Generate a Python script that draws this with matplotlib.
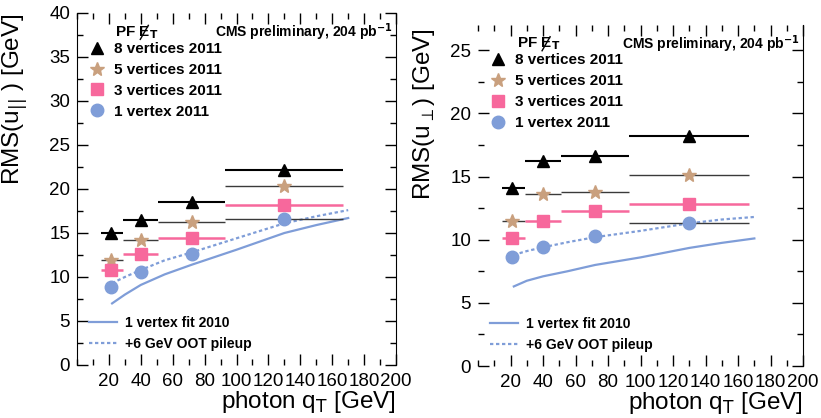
import matplotlib.pyplot as plt
import numpy as np
from matplotlib.lines import Line2D
from matplotlib.ticker import MultipleLocator

plt.rcParams['font.family'] = ['Liberation Sans', 'DejaVu Sans']

# photon qT bins
qt = np.array([21, 40, 72, 130])
qt_lo = np.array([15, 29, 51, 93])
qt_hi = np.array([29, 51, 93, 167])

# RMS(u_par)
par_8vtx = [15.0, 16.5, 18.5, 22.2]
par_5vtx = [11.9, 14.2, 16.2, 20.3]
par_3vtx = [10.8, 12.6, 14.4, 18.2]
par_1vtx = [8.9, 10.6, 12.6, 16.6]

# RMS(u_perp)
perp_8vtx = [14.1, 16.2, 16.6, 18.2]
perp_5vtx = [11.5, 13.6, 13.8, 15.1]
perp_3vtx = [10.1, 11.5, 12.3, 12.85]
perp_1vtx = [8.6, 9.4, 10.3, 11.3]

# 2010 fits
fit_qt = [22, 30, 40, 55, 72, 100, 130, 150, 170]
par_fit = [7.0, 8.0, 9.1, 10.3, 11.4, 13.1, 15.0, 15.9, 16.7]
par_oot = [9.3, 10.0, 10.8, 11.9, 12.8, 14.4, 16.1, 16.9, 17.6]
perp_fit = [6.3, 6.75, 7.1, 7.5, 8.0, 8.6, 9.35, 9.75, 10.1]
perp_oot = [8.8, 9.1, 9.4, 9.8, 10.2, 10.7, 11.3, 11.6, 11.8]

c_black = 'black'
c_star = '#c9a07e'
c_pink = '#f7689c'
c_blue = '#7f9dd8'
c_bar = '#3a3a3a'

W, H = 821, 418
fig = plt.figure(figsize=(W / 100, H / 100), dpi=100)
ax1 = fig.add_axes([0.0938, 0.1268, 0.3886, 0.8421])
ax2 = fig.add_axes([0.5823, 0.1244, 0.3959, 0.8158])


def draw(ax, s8, s5, s3, s1, fit, oot, ymax, ylabel, show_left):
    ax.hlines(s8, qt_lo, qt_hi, color=c_black, lw=1.5, zorder=2)
    ax.hlines(s5, qt_lo, qt_hi, color=c_bar, lw=1.0, zorder=2)
    ax.hlines(s3, qt_lo, qt_hi, color=c_pink, lw=1.8, zorder=2)
    ax.hlines(s1[-1:], qt_lo[-1:], qt_hi[-1:], color=c_bar, lw=1.0, zorder=2)
    ax.plot(fit_qt, fit, color=c_blue, lw=1.6, zorder=1)
    ax.plot(fit_qt, oot, color=c_blue, lw=1.6, ls=(0, (1.5, 1.2)), zorder=1)
    ax.plot(qt, s8, '^', color=c_black, ms=8, zorder=4)
    ax.plot(qt, s5, '*', color=c_star, ms=10, zorder=4)
    ax.plot(qt, s3, 's', color=c_pink, ms=9, zorder=4)
    ax.plot(qt, s1, 'o', color=c_blue, ms=9, zorder=4)

    ax.set_xlim(0, 200)
    ax.set_ylim(0, ymax)
    ax.set_xticks(np.arange(20, 201, 20))
    ax.xaxis.set_minor_locator(MultipleLocator(10))
    ax.yaxis.set_major_locator(MultipleLocator(5))
    ax.yaxis.set_minor_locator(MultipleLocator(2.5))
    ax.tick_params(which='both', direction='in', top=True, right=True,
                   labelsize=13.5, pad=6)
    ax.tick_params(which='major', length=8, width=1)
    ax.tick_params(which='minor', length=4, width=1)
    ax.tick_params(axis='y', pad=5)
    ax.spines['top'].set_visible(False)
    ax.spines['bottom'].set_visible(False)
    ax.spines['left'].set_visible(show_left)
    ax.set_ylabel(ylabel, fontsize=17.5, loc='top')
    ax.set_xlabel(r'photon q$_\mathrm{T}$ [GeV]', fontsize=17.5, loc='right',
                  labelpad=-1)

    handles = [
        Line2D([], [], marker='^', ls='none', color=c_black, ms=8),
        Line2D([], [], marker='*', ls='none', color=c_star, ms=10),
        Line2D([], [], marker='s', ls='none', color=c_pink, ms=9),
        Line2D([], [], marker='o', ls='none', color=c_blue, ms=9),
    ]
    labels = ['8 vertices 2011', '5 vertices 2011', '3 vertices 2011', '1 vertex 2011']
    leg = ax.legend(handles, labels, loc='upper left', bbox_to_anchor=(0.02, 0.935),
                    frameon=False, prop={'weight': 'bold', 'size': 11},
                    handlelength=1.0, handletextpad=0.6, labelspacing=0.45,
                    borderaxespad=0)
    ax.add_artist(leg)
    lh = [Line2D([], [], color=c_blue, lw=1.6),
          Line2D([], [], color=c_blue, lw=1.6, ls=(0, (1.5, 1.2)))]
    ax.legend(lh, ['1 vertex fit 2010', '+6 GeV OOT pileup'], loc='lower left',
              bbox_to_anchor=(0.02, 0.025), frameon=False,
              prop={'weight': 'bold', 'size': 10}, handlelength=2.0,
              handletextpad=0.6, labelspacing=0.5, borderaxespad=0)

    ax.text(0.12, 0.945, 'PF E$_\\mathbf{T}$', transform=ax.transAxes,
            fontsize=11, fontweight='bold', va='center')
    # slash through the E (missing transverse energy), placed in figure pixels
    pos = ax.get_position()
    ex = pos.x0 * W + 0.12 * pos.width * W + 25
    ey = H - (pos.y0 * H + 0.945 * pos.height * H)
    fig.add_artist(Line2D([ex / W, (ex + 8) / W], [1 - (ey + 7) / H, 1 - (ey - 7) / H],
                          transform=fig.transFigure, color='black', lw=1.0))
    ax.text(0.99, 0.945, 'CMS preliminary, 204 pb$^{\\mathbf{-1}}$',
            transform=ax.transAxes, fontsize=10, fontweight='bold',
            va='center', ha='right')


draw(ax1, par_8vtx, par_5vtx, par_3vtx, par_1vtx, par_fit, par_oot, 40,
     r'RMS(u$_{||}$ ) [GeV]', True)
draw(ax2, perp_8vtx, perp_5vtx, perp_3vtx, perp_1vtx, perp_fit, perp_oot, 27,
     r'RMS(u$_{\perp}$) [GeV]', False)
ax1.yaxis.set_label_coords(-0.15, 1.0)
ax2.yaxis.set_label_coords(-0.125, 0.99)

fig.savefig('out.png', dpi=100)
